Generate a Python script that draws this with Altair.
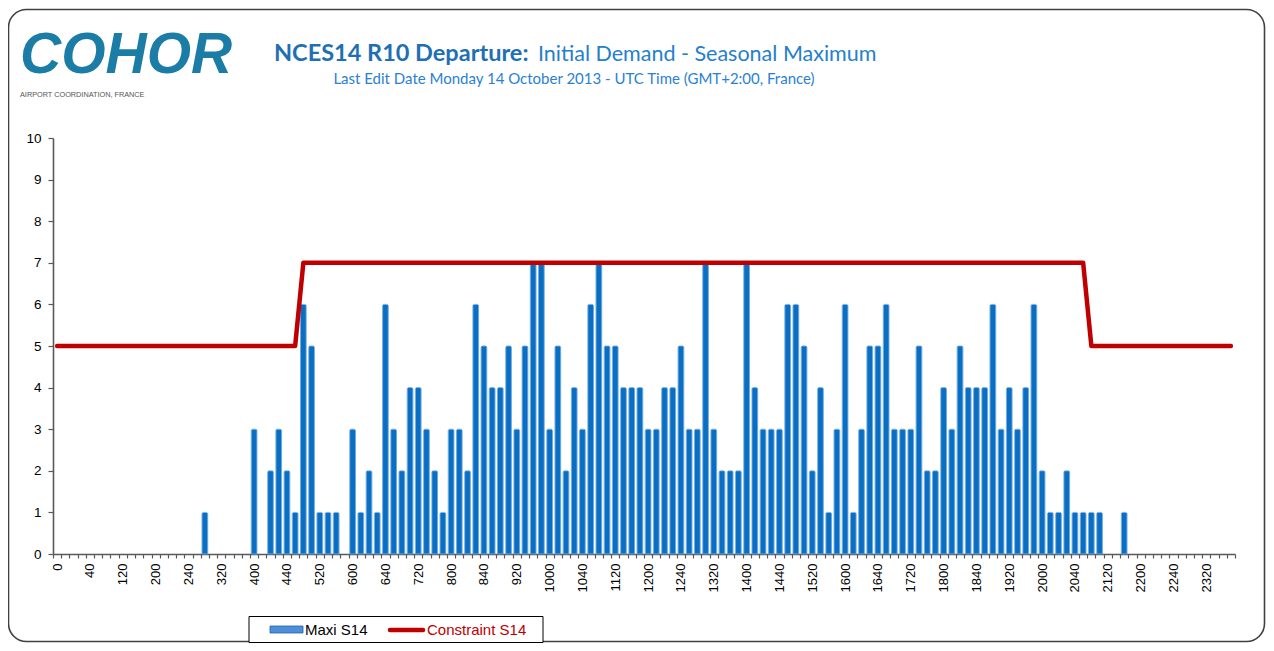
import altair as alt
import pandas as pd

# ---- category labels (10-minute slots, HHMM) ----
times = [
    "0", "10", "20", "30", "40", "50", "100", "110", "120", "130", "140", "150",
    "200", "210", "220", "230", "240", "250", "300", "310", "320", "330", "340", "350",
    "400", "410", "420", "430", "440", "450", "500", "510", "520", "530", "540", "550",
    "600", "610", "620", "630", "640", "650", "700", "710", "720", "730", "740", "750",
    "800", "810", "820", "830", "840", "850", "900", "910", "920", "930", "940", "950",
    "1000", "1010", "1020", "1030", "1040", "1050", "1100", "1110", "1120", "1130", "1140", "1150",
    "1200", "1210", "1220", "1230", "1240", "1250", "1300", "1310", "1320", "1330", "1340", "1350",
    "1400", "1410", "1420", "1430", "1440", "1450", "1500", "1510", "1520", "1530", "1540", "1550",
    "1600", "1610", "1620", "1630", "1640", "1650", "1700", "1710", "1720", "1730", "1740", "1750",
    "1800", "1810", "1820", "1830", "1840", "1850", "1900", "1910", "1920", "1930", "1940", "1950",
    "2000", "2010", "2020", "2030", "2040", "2050", "2100", "2110", "2120", "2130", "2140", "2150",
    "2200", "2210", "2220", "2230", "2240", "2250", "2300", "2310", "2320", "2330", "2340", "2350",
]

# ---- Maxi S14 (bars) ----
maxi_s14 = [
    0, 0, 0, 0, 0, 0, 0, 0, 0, 0, 0, 0,
    0, 0, 0, 0, 0, 0, 1, 0, 0, 0, 0, 0,
    3, 0, 2, 3, 2, 1, 6, 5, 1, 1, 1, 0,
    3, 1, 2, 1, 6, 3, 2, 4, 4, 3, 2, 1,
    3, 3, 2, 6, 5, 4, 4, 5, 3, 5, 7, 7,
    3, 5, 2, 4, 3, 6, 7, 5, 5, 4, 4, 4,
    3, 3, 4, 4, 5, 3, 3, 7, 3, 2, 2, 2,
    7, 4, 3, 3, 3, 6, 6, 5, 2, 4, 1, 3,
    6, 1, 3, 5, 5, 6, 3, 3, 3, 5, 2, 2,
    4, 3, 5, 4, 4, 4, 6, 3, 4, 3, 4, 6,
    2, 1, 1, 2, 1, 1, 1, 1, 0, 0, 1, 0,
    0, 0, 0, 0, 0, 0, 0, 0, 0, 0, 0, 0,
]

# ---- Constraint S14 (line) ----
constraint_s14 = [
    5, 5, 5, 5, 5, 5, 5, 5, 5, 5, 5, 5,
    5, 5, 5, 5, 5, 5, 5, 5, 5, 5, 5, 5,
    5, 5, 5, 5, 5, 5, 7, 7, 7, 7, 7, 7,
    7, 7, 7, 7, 7, 7, 7, 7, 7, 7, 7, 7,
    7, 7, 7, 7, 7, 7, 7, 7, 7, 7, 7, 7,
    7, 7, 7, 7, 7, 7, 7, 7, 7, 7, 7, 7,
    7, 7, 7, 7, 7, 7, 7, 7, 7, 7, 7, 7,
    7, 7, 7, 7, 7, 7, 7, 7, 7, 7, 7, 7,
    7, 7, 7, 7, 7, 7, 7, 7, 7, 7, 7, 7,
    7, 7, 7, 7, 7, 7, 7, 7, 7, 7, 7, 7,
    7, 7, 7, 7, 7, 7, 5, 5, 5, 5, 5, 5,
    5, 5, 5, 5, 5, 5, 5, 5, 5, 5, 5, 5,
]

y_ticks = [0, 1, 2, 3, 4, 5, 6, 7, 8, 9, 10]

df = pd.DataFrame({"time": times, "maxi": maxi_s14, "constraint": constraint_s14})
one = pd.DataFrame({"a": [0]})

AXIS_FONT = "Liberation Sans"

x_scale = alt.Scale(type="band", paddingInner=0, paddingOuter=0, domain=times)

x_enc = alt.X(
    "time:O",
    sort=times,
    scale=x_scale,
    axis=alt.Axis(
        title=None,
        labelAngle=-90,
        labelAlign="right",
        labelBaseline="middle",
        labelFont=AXIS_FONT,
        labelFontSize=13,
        labelColor="#000000",
        labelPadding=5,
        labelOverlap=False,
        labelExpr="(floor(toNumber(datum.value)/100)*60 + toNumber(datum.value)%100) % 40 == 0 ? datum.value : ''",
        tickBand="extent",
        tickSize=4,
        tickColor="#595959",
        tickWidth=1.2,
        domainColor="#595959",
        domainWidth=1.6,
        grid=False,
    ),
)
y_enc = alt.Y(
    "maxi:Q",
    scale=alt.Scale(domain=[0, 10], nice=False),
    axis=alt.Axis(
        title=None,
        values=y_ticks,
        labelFont=AXIS_FONT,
        labelFontSize=13.5,
        labelColor="#000000",
        labelPadding=7,
        tickSize=5,
        tickColor="#595959",
        tickWidth=1.2,
        domainColor="#595959",
        domainWidth=1.6,
        grid=False,
    ),
)

bars = alt.Chart(df).transform_filter("datum.maxi > 0").mark_bar(
    width=alt.RelativeBandSize(0.7),
    color="#0A6FC2",
    stroke="#5DA0DC",
    strokeWidth=0.8,
    cornerRadiusTopLeft=1.5,
    cornerRadiusTopRight=1.5,
).encode(x=x_enc, y=y_enc)

line = alt.Chart(df).mark_line(
    color="#C00000", strokeWidth=4.5, strokeCap="round", strokeJoin="round"
).encode(
    x=alt.X("time:O", sort=times, scale=x_scale),
    y=alt.Y("constraint:Q"),
)

frame = alt.Chart(one).mark_rect(
    fillOpacity=0, stroke="#404040", strokeWidth=1.6, cornerRadius=18
).encode(
    x=alt.value(-44.5), x2=alt.value(1211.5), y=alt.value(-128.5), y2=alt.value(503.5)
)


def txt(text, x, y, **kw):
    return alt.Chart(one).mark_text(text=text, **kw).encode(x=alt.value(x), y=alt.value(y))


logo = txt("COHOR", -33, -65, align="left", baseline="alphabetic",
           font="Liberation Sans", fontSize=57, fontStyle="italic",
           fontWeight="bold", color="#1B7DA6")
logo_sub = txt("AIRPORT COORDINATION, FRANCE", -33, -43, align="left", baseline="middle",
               font="Liberation Sans", fontSize=7.3, color="#555555")
title_b = txt("NCES14 R10 Departure:", 221, -77, align="left", baseline="alphabetic",
              font="Lato", fontSize=23.5, fontWeight="bold", color="#1E6FB5")
title_r = txt("Initial Demand - Seasonal Maximum", 485, -77, align="left", baseline="alphabetic",
              font="Lato", fontSize=21.5, color="#2480CC")
subtitle = txt("Last Edit Date Monday 14 October  2013 - UTC Time (GMT+2:00, France)", 521, -54,
               align="center", baseline="alphabetic", font="Lato", fontSize=15, color="#2B7FD4")

leg_box = alt.Chart(one).mark_rect(fill="#FFFFFF", stroke="#000000", strokeWidth=1).encode(
    x=alt.value(196), x2=alt.value(490), y=alt.value(478.5), y2=alt.value(504.5)
)
leg_bar = alt.Chart(one).mark_rect(fill="#4F8ED8", stroke="#2563A8", strokeWidth=0.8).encode(
    x=alt.value(217), x2=alt.value(250), y=alt.value(488), y2=alt.value(495)
)
leg_bar_txt = txt("Maxi S14", 252, 492, align="left", baseline="middle",
                  font=AXIS_FONT, fontSize=15, color="#000000")
leg_line = alt.Chart(one).mark_rule(color="#C00000", strokeWidth=4.5, strokeCap="round").encode(
    x=alt.value(337), x2=alt.value(370), y=alt.value(492)
)
leg_line_txt = txt("Constraint S14", 374, 492, align="left", baseline="middle",
                   font=AXIS_FONT, fontSize=15, color="#C00000")

chart = alt.layer(
    frame, bars, line, logo, logo_sub, title_b, title_r, subtitle,
    leg_box, leg_bar, leg_bar_txt, leg_line, leg_line_txt,
).properties(
    width=1182,
    height=416,
    autosize=alt.AutoSizeParams(type="none"),
    padding={"left": 45, "top": 130, "right": 31, "bottom": 89},
).configure_view(stroke=None)

chart.save("out.html", embed_options={"renderer": "svg", "actions": False})
